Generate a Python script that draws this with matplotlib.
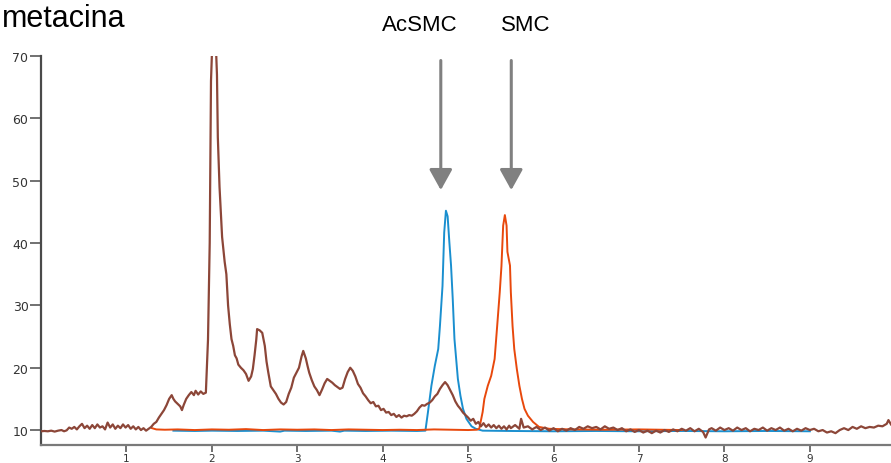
import matplotlib
matplotlib.use('Agg')
import matplotlib.pyplot as plt

BROWN = '#8C4638'
BLUE = '#1A8FCF'
ORANGE = '#E8480C'
ARROW_GREY = '#808080'

# sample chromatogram (retention time in min, signal)
sample_time = [
    0.00, 0.04, 0.08, 0.12, 0.16, 0.20, 0.24, 0.27, 0.30, 0.33, 0.36, 0.39, 0.42, 0.45,
    0.48, 0.51, 0.54, 0.57, 0.60, 0.63, 0.66, 0.69, 0.72, 0.75, 0.78, 0.81, 0.84, 0.87,
    0.90, 0.93, 0.96, 0.99, 1.02, 1.05, 1.08, 1.11, 1.14, 1.17, 1.20, 1.23, 1.26, 1.29,
    1.32, 1.35, 1.38, 1.41, 1.44, 1.47, 1.50, 1.53, 1.55, 1.57, 1.60, 1.63, 1.65, 1.67,
    1.70, 1.73, 1.76, 1.79, 1.81, 1.84, 1.87, 1.90, 1.93, 1.945, 1.955, 1.965, 1.975,
    1.985, 1.99, 2.025, 2.06, 2.07, 2.09, 2.12, 2.15, 2.17, 2.19, 2.21, 2.23, 2.25, 2.27,
    2.29, 2.31, 2.34, 2.37, 2.40, 2.43, 2.46, 2.48, 2.50, 2.52, 2.53, 2.56, 2.59, 2.62,
    2.64, 2.66, 2.69, 2.72, 2.75, 2.78, 2.81, 2.84, 2.87, 2.90, 2.93, 2.96, 2.99, 3.02,
    3.05, 3.07, 3.10, 3.12, 3.14, 3.17, 3.20, 3.23, 3.26, 3.29, 3.32, 3.35, 3.38, 3.41,
    3.44, 3.47, 3.50, 3.53, 3.56, 3.59, 3.62, 3.65, 3.68, 3.71, 3.74, 3.77, 3.80, 3.83,
    3.86, 3.89, 3.92, 3.95, 3.98, 4.01, 4.04, 4.07, 4.10, 4.13, 4.16, 4.19, 4.22, 4.25,
    4.28, 4.31, 4.34, 4.37, 4.40, 4.43, 4.46, 4.49, 4.52, 4.55, 4.58, 4.61, 4.64, 4.67,
    4.70, 4.73, 4.76, 4.79, 4.82, 4.85, 4.88, 4.91, 4.94, 4.97, 5.00, 5.03, 5.06, 5.09,
    5.12, 5.15, 5.18, 5.21, 5.24, 5.27, 5.30, 5.33, 5.36, 5.39, 5.42, 5.45, 5.48, 5.50,
    5.55, 5.60, 5.62, 5.65, 5.70, 5.75, 5.80, 5.85, 5.90, 5.95, 6.00, 6.05, 6.10, 6.15,
    6.20, 6.25, 6.30, 6.35, 6.40, 6.45, 6.50, 6.55, 6.60, 6.65, 6.70, 6.75, 6.80, 6.85,
    6.90, 6.95, 7.00, 7.05, 7.10, 7.15, 7.20, 7.25, 7.30, 7.35, 7.40, 7.45, 7.50, 7.55,
    7.60, 7.65, 7.70, 7.75, 7.78, 7.82, 7.85, 7.90, 7.95, 8.00, 8.05, 8.10, 8.15, 8.20,
    8.25, 8.30, 8.35, 8.40, 8.45, 8.50, 8.55, 8.60, 8.65, 8.70, 8.75, 8.80, 8.85, 8.90,
    8.95, 9.00, 9.05, 9.10, 9.15, 9.20, 9.25, 9.30, 9.35, 9.40, 9.45, 9.50, 9.55, 9.60,
    9.65, 9.70, 9.75, 9.80, 9.85, 9.90, 9.92, 9.95,
]
sample_signal = [
    9.80, 9.85, 9.80, 9.90, 9.75, 9.90, 10.0, 9.80, 9.95, 10.4, 10.2, 10.5, 10.1, 10.6,
    11.0, 10.3, 10.7, 10.2, 10.8, 10.3, 10.9, 10.4, 10.6, 10.1, 11.2, 10.4, 10.9, 10.2,
    10.7, 10.3, 10.9, 10.4, 10.8, 10.2, 10.6, 10.1, 10.5, 10.0, 10.3, 9.90, 10.2, 10.5,
    11.0, 11.3, 12.0, 12.6, 13.2, 14.0, 15.0, 15.6, 15.0, 14.6, 14.2, 13.8, 13.2, 14.0,
    15.0, 15.6, 16.1, 15.6, 16.3, 15.7, 16.2, 15.8, 16.0, 21.0, 24.5, 32.0, 40.0,
    56.0, 66.0, 80.0, 67.0, 57.0, 49.0, 41.0, 37.0, 35.0, 30.0, 27.0, 24.6, 23.5, 22.0,
    21.5, 20.5, 20.0, 19.6, 19.0, 17.9, 18.6, 19.8, 22.0, 24.5, 26.2, 26.0, 25.6, 23.5,
    21.0, 19.3, 17.0, 16.4, 15.8, 15.0, 14.4, 14.1, 14.5, 15.8, 16.8, 18.4, 19.2, 20.0,
    21.8, 22.7, 21.5, 20.3, 19.2, 18.0, 17.0, 16.4, 15.6, 16.5, 17.5, 18.2, 17.9, 17.6,
    17.2, 16.9, 16.6, 16.8, 18.2, 19.3, 20.0, 19.5, 18.6, 17.4, 16.8, 15.9, 15.4, 14.8,
    14.3, 14.5, 13.8, 13.9, 13.2, 13.4, 12.8, 12.9, 12.4, 12.6, 12.1, 12.4, 12.0, 12.3,
    12.2, 12.4, 12.3, 12.6, 13.0, 13.6, 14.0, 13.9, 14.2, 14.4, 14.8, 15.4, 15.8, 16.6,
    17.2, 17.7, 17.2, 16.4, 15.6, 14.6, 13.9, 13.4, 12.8, 12.4, 12.0, 11.5, 11.8, 11.0,
    11.3, 10.6, 11.1, 10.5, 10.9, 10.4, 10.8, 10.3, 10.7, 10.2, 10.6, 10.1, 10.7, 10.3,
    10.8, 10.2, 11.8, 10.4, 10.6, 10.1, 10.5, 10.0, 10.4, 9.90, 10.3, 9.80, 10.2, 9.90,
    10.3, 10.0, 10.5, 10.2, 10.6, 10.3, 10.5, 10.1, 10.6, 10.2, 10.4, 10.0, 10.3, 9.80,
    10.1, 9.70, 10.0, 9.60, 9.90, 9.50, 9.90, 9.60, 10.0, 9.70, 10.1, 9.80, 10.2, 9.90,
    10.3, 9.80, 10.2, 9.70, 8.80, 10.1, 10.3, 9.90, 10.4, 10.0, 10.3, 9.90, 10.4, 10.0,
    10.3, 9.80, 10.2, 10.0, 10.4, 9.90, 10.3, 10.0, 10.4, 9.90, 10.2, 9.80, 10.2, 9.90,
    10.3, 10.0, 10.2, 9.80, 10.0, 9.60, 9.80, 9.50, 10.0, 10.3, 10.0, 10.5, 10.2, 10.6,
    10.3, 10.5, 10.4, 10.7, 10.6, 11.0, 11.6, 10.9,
]

# AcSMC standard
acsmc_time = [
    1.55, 1.80, 2.00, 2.30, 2.60, 2.80, 2.85, 3.10, 3.40, 3.50, 3.55, 3.80, 4.10, 4.40,
    4.50, 4.53, 4.57, 4.59, 4.61, 4.65, 4.67, 4.70, 4.72, 4.74, 4.76, 4.78, 4.80, 4.82,
    4.84, 4.86, 4.88, 4.91, 4.94, 4.98, 5.04, 5.09, 5.17, 5.50, 6.00, 6.50, 7.00, 7.50,
    8.00, 8.50, 9.00,
]
acsmc_signal = [
    9.90, 9.85, 9.90, 9.85, 9.90, 9.75, 9.90, 9.85, 9.90, 9.75, 9.90, 9.85, 9.90, 9.85,
    9.90, 12.9, 17.1, 18.7, 20.3, 23.0, 26.7, 33.1, 41.7, 45.2, 44.3, 40.2, 36.4, 31.0,
    24.6, 21.4, 18.2, 15.5, 13.4, 11.8, 10.6, 10.2, 9.90, 9.85, 9.80, 9.85, 9.80, 9.85,
    9.80, 9.85, 9.80,
]

# SMC standard
smc_time = [
    1.30, 1.35, 1.45, 1.60, 1.80, 2.00, 2.20, 2.40, 2.60, 2.80, 3.00, 3.20, 3.40, 3.60,
    3.80, 4.00, 4.20, 4.40, 4.60, 4.80, 5.00, 5.10, 5.13, 5.17, 5.19, 5.23, 5.27, 5.31,
    5.34, 5.37, 5.39, 5.41, 5.43, 5.45, 5.46, 5.49, 5.50, 5.52, 5.54, 5.57, 5.60, 5.63,
    5.66, 5.70, 5.76, 5.83, 5.95, 6.20, 6.60, 7.00, 7.50,
]
smc_signal = [
    10.3, 10.1, 10.05, 10.1, 10.0, 10.1, 10.05, 10.15, 10.0, 10.1, 10.05, 10.1, 10.0, 10.1,
    10.05, 10.0, 10.05, 10.0, 10.1, 10.05, 10.0, 10.05, 10.2, 12.9, 15.0, 17.1, 18.7, 21.4,
    26.7, 32.1, 36.3, 42.8, 44.5, 42.8, 38.6, 36.4, 32.1, 26.7, 23.0, 19.8, 17.1, 15.0,
    13.4, 12.3, 11.3, 10.5, 10.2, 10.1, 10.05, 10.1, 10.0,
]

peak_labels = ['AcSMC', 'SMC']
peak_times = [4.68, 5.505]

fig = plt.figure(figsize=(8.91, 4.64), dpi=100)
ax = fig.add_axes([0.046, 0.0388, 0.954, 0.838])

ax.plot(acsmc_time, acsmc_signal, color=BLUE, lw=1.4, zorder=2)
ax.plot(smc_time, smc_signal, color=ORANGE, lw=1.4, zorder=3)
ax.plot(sample_time, sample_signal, color=BROWN, lw=1.6, zorder=4)

ax.set_xlim(0, 9.95)
ax.set_ylim(7.6, 70)
ax.set_xticks(range(1, 10))
ax.set_yticks(range(10, 80, 10))

for side in ('top', 'right'):
    ax.spines[side].set_visible(False)
ax.spines['left'].set_color('#4a4a4a')
ax.spines['left'].set_linewidth(1.6)
ax.spines['bottom'].set_color('#7a7a7a')
ax.spines['bottom'].set_linewidth(1.6)
ax.tick_params(axis='y', direction='out', length=8, width=1.3, color='#666666',
               labelsize=9, labelcolor='#333333', pad=1)
ax.tick_params(axis='x', direction='out', length=5, width=1.3, color='#666666',
               labelsize=7.5, labelcolor='#333333', pad=0.5)

# arrows pointing at the standards
for label, t in zip(peak_labels, peak_times):
    ax.annotate('', xy=(t, 48.5), xytext=(t, 69.3),
                arrowprops=dict(arrowstyle='-|>,head_length=0.45,head_width=0.25',
                                color=ARROW_GREY, lw=2.2, mutation_scale=28,
                                shrinkA=0, shrinkB=0),
                annotation_clip=False)
ax.text(4.43, 75.1, peak_labels[0], ha='center', va='center', fontsize=16,
        family='Liberation Sans', clip_on=False)
ax.text(5.67, 75.1, peak_labels[1], ha='center', va='center', fontsize=16,
        family='Liberation Sans', clip_on=False)

fig.text(0.002, 0.942, 'metacina', ha='left', va='baseline', fontsize=22,
         family='Liberation Sans')

fig.savefig('out.png', dpi=100)
